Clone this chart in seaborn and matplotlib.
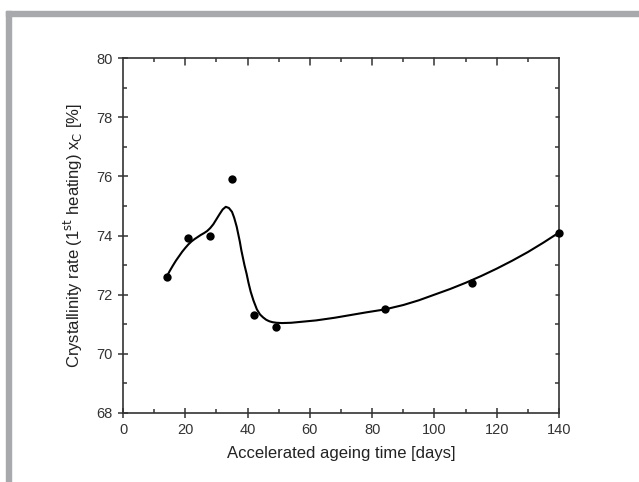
import matplotlib
matplotlib.use("Agg")
import matplotlib.pyplot as plt
import seaborn as sns
from matplotlib.patches import Rectangle
from matplotlib.ticker import MultipleLocator

# Measured points
days = [14, 21, 28, 35, 42, 49, 84, 112, 140]
cryst = [72.6, 73.9, 74.0, 75.9, 71.3, 70.9, 71.5, 72.4, 74.1]

# Fitted curve
curve_days = [14, 15, 16, 17, 18, 19, 20, 21, 22, 23, 24, 25, 26, 27, 28, 29, 30,
              31, 32, 33, 34, 35, 35.7, 36.5, 37, 37.5, 38, 38.5, 39, 39.7, 40.3,
              41, 41.9, 43, 44, 45, 46, 47, 48, 49.3, 51, 54, 57, 62, 68, 73, 78,
              84, 90, 95, 100, 105, 110, 115, 120, 125, 130, 135, 140]
curve_vals = [72.6, 72.8, 72.98, 73.15, 73.3, 73.45, 73.58, 73.7, 73.8, 73.88,
              73.95, 74.02, 74.08, 74.15, 74.25, 74.38, 74.55, 74.72, 74.88, 74.97,
              74.93, 74.8, 74.6, 74.3, 74.05, 73.8, 73.5, 73.25, 73.0, 72.7, 72.4,
              72.1, 71.8, 71.5, 71.33, 71.23, 71.15, 71.1, 71.07, 71.05, 71.04,
              71.05, 71.08, 71.13, 71.22, 71.31, 71.4, 71.5, 71.65, 71.81, 72.0,
              72.19, 72.4, 72.63, 72.88, 73.15, 73.44, 73.76, 74.1]

xticks = [0, 20, 40, 60, 80, 100, 120, 140]
yticks = [68, 70, 72, 74, 76, 78, 80]

sns.set_theme(style="white")
plt.rcParams['font.family'] = ['Liberation Sans', 'DejaVu Sans']

fig = plt.figure(figsize=(6.39, 4.82), dpi=100)
W, H = 639, 482
# gray frame
fig.patches.append(Rectangle((6 / W, 0), 5 / W, 1 - 11 / H, transform=fig.transFigure,
                             color="#a7a9ac", zorder=0))
fig.patches.append(Rectangle((6 / W, 1 - 16 / H), 1 - 6 / W, 5 / H, transform=fig.transFigure,
                             color="#a7a9ac", zorder=0))

ax = fig.add_axes([123 / W, 1 - 413 / H, (559 - 123) / W, (413 - 58) / H])

sns.lineplot(x=curve_days, y=curve_vals, ax=ax, color="black", linewidth=1.5,
             sort=False, estimator=None)
sns.scatterplot(x=days, y=cryst, ax=ax, color="black", s=36, edgecolor="black",
                linewidth=0, zorder=5, clip_on=False)

ax.set_xlim(0, 140)
ax.set_ylim(68, 80)
ax.set_xticks(xticks)
ax.set_yticks(yticks)
ax.xaxis.set_minor_locator(MultipleLocator(10))
ax.yaxis.set_minor_locator(MultipleLocator(1))

for s in ax.spines.values():
    s.set_color("#333333")
    s.set_linewidth(1.2)

ax.tick_params(which="major", direction="inout", length=7, width=1.1, color="#333333",
               labelsize=10.5, labelcolor="#333333", bottom=True, left=True,
               top=False, right=False, pad=4)
ax.tick_params(which="minor", direction="in", length=3, width=1.1, color="#333333",
               bottom=True, left=True, top=True, right=True)

ax.set_xlabel("Accelerated ageing time [days]", fontsize=12, color="#222222", labelpad=6)
ax.set_ylabel(r"Crystallinity rate (1$^{\rm st}$ heating) x$_{\rm C}$ [%]", fontsize=12,
              color="#222222", labelpad=8)

# inward major ticks on top and right
for xv in xticks[1:-1]:
    ax.plot([xv, xv], [80, 80 - 12 * 7 / 355], color="#333333", lw=1.1, clip_on=False)
for yv in yticks[1:-1]:
    ax.plot([140, 140 - 140 * 3 / 436], [yv, yv], color="#333333", lw=1.1, clip_on=False)

fig.savefig("out.png", dpi=100, facecolor="white")
